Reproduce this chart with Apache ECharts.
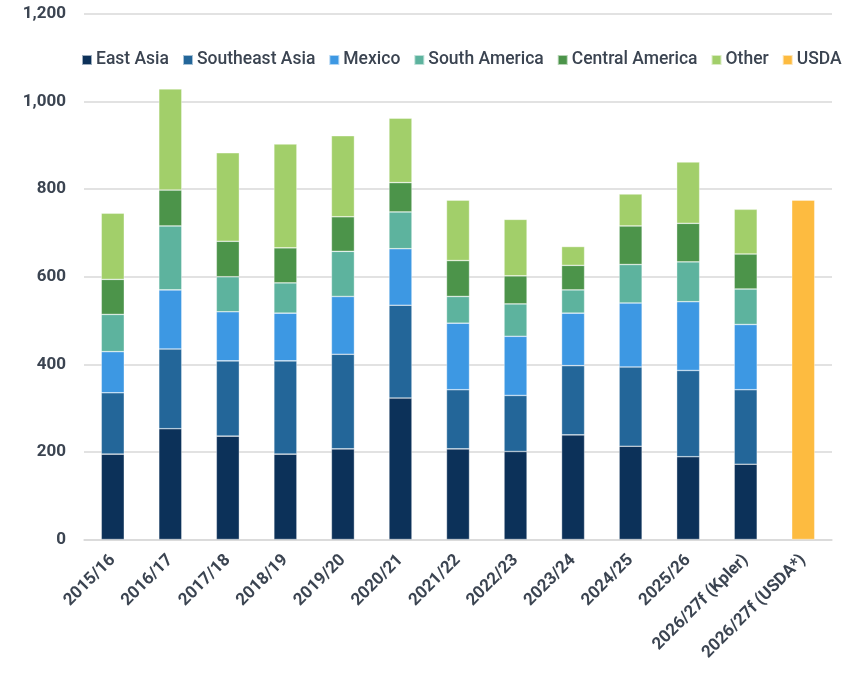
<!DOCTYPE html>
<html>
<head>
<meta charset="utf-8">
<script src="https://cdn.jsdelivr.net/npm/echarts@6/dist/echarts.min.js"></script>
<style>
  html, body { margin: 0; padding: 0; background: #fff; }
  #chart { width: 856px; height: 679px; }
</style>
</head>
<body>
<div id="chart"></div>
<script>
const categories = ['2015/16', '2016/17', '2017/18', '2018/19', '2019/20', '2020/21', '2021/22',
  '2022/23', '2023/24', '2024/25', '2025/26', '2026/27f (Kpler)', '2026/27f (USDA*)'];

// stacked pieces per season (last category is the USDA total only)
const eastAsia      = [195, 253, 236, 195, 207, 323, 207, 201, 239, 213, 189, 172, null];
const southeastAsia = [140, 182, 172, 213, 216, 212, 135, 128, 158, 181, 197, 170, null];
const mexico        = [ 94, 135, 112, 109, 132, 129, 152, 135, 120, 146, 157, 149, null];
const southAmerica  = [ 85, 146,  80,  69, 103,  84,  61,  74,  53,  88,  91,  81, null];
const centralAm     = [ 80,  82,  81,  80,  79,  67,  82,  64,  56,  88,  88,  80, null];
const other         = [151, 231, 202, 237, 185, 147, 138, 129,  43,  73, 140, 102, null];
const usda          = [null, null, null, null, null, null, null, null, null, null, null, null, 775];

const textColor = '#3b4451';
const font = 'Roboto';

const seriesDefs = [
  { name: 'East Asia', data: eastAsia, color: '#0c3159' },
  { name: 'Southeast Asia', data: southeastAsia, color: '#236699' },
  { name: 'Mexico', data: mexico, color: '#3d98e3' },
  { name: 'South America', data: southAmerica, color: '#5db39e' },
  { name: 'Central America', data: centralAm, color: '#4c944a' },
  { name: 'Other', data: other, color: '#a2cf6a' },
  { name: 'USDA', data: usda, color: '#fdbb40' }
];

const chart = echarts.init(document.getElementById('chart'));
chart.setOption({
  animation: false,
  textStyle: { fontFamily: font },
  grid: { left: 84, right: 24, top: 14, bottom: 139.5 },
  legend: {
    top: 46,
    left: 76,
    width: 800,
    itemWidth: 10,
    itemHeight: 10,
    itemGap: 13,
    icon: 'rect',
    textStyle: { fontSize: 17.5, fontWeight: 500, color: textColor, fontFamily: font, padding: [0, 0, 0, -1] },
    data: seriesDefs.map(s => s.name)
  },
  xAxis: {
    type: 'category',
    data: categories,
    axisLine: { lineStyle: { color: '#d9d9d9', width: 1.5 } },
    axisTick: { show: false },
    axisLabel: {
      rotate: 45,
      interval: 0,
      margin: 18,
      fontSize: 17,
      fontWeight: 'bold',
      color: textColor
    }
  },
  yAxis: {
    type: 'value',
    min: 0,
    max: 1200,
    interval: 200,
    axisLine: { show: false },
    axisTick: { show: false },
    splitLine: { lineStyle: { color: '#d9d9d9', width: 1.5 } },
    axisLabel: {
      margin: 18,
      fontSize: 17,
      fontWeight: 'bold',
      color: textColor,
      formatter: v => v.toLocaleString('en-US')
    }
  },
  series: seriesDefs.map(s => ({
    name: s.name,
    type: 'bar',
    stack: 'total',
    barWidth: '40%',
    data: s.data,
    itemStyle: { color: s.color, borderColor: 'rgba(255,255,255,0.6)', borderWidth: 0.6 }
  }))
});
</script>
</body>
</html>
